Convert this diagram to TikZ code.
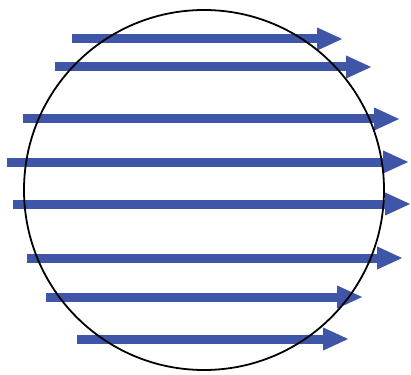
\documentclass[tikz,border=0pt]{standalone}
\usetikzlibrary{arrows.meta}
\definecolor{arrowblue}{HTML}{3F55A8}
\begin{document}
\begin{tikzpicture}[x=1pt,y=-1pt,
  flow/.style={draw=arrowblue,line width=9pt,-{Triangle[length=26pt,width=21pt]}},
  rim/.style={draw=black,line width=1.8pt}]
\useasboundingbox (0,0) rectangle (411,374);
\foreach \y/\a/\b in {39/72/343, 67/55/372, 119/23/400, 162/7/409, 204/13/411, 258/27/403, 297/46/363, 339/77/349}{
  \coordinate (s\y) at (\a,\y);
  \coordinate (e\y) at (\b,\y);
  \draw[flow] (s\y) -- (e\y);
}
\coordinate (c) at (204,190);
\draw[rim] (c) circle[radius=180];
\end{tikzpicture}
\end{document}
